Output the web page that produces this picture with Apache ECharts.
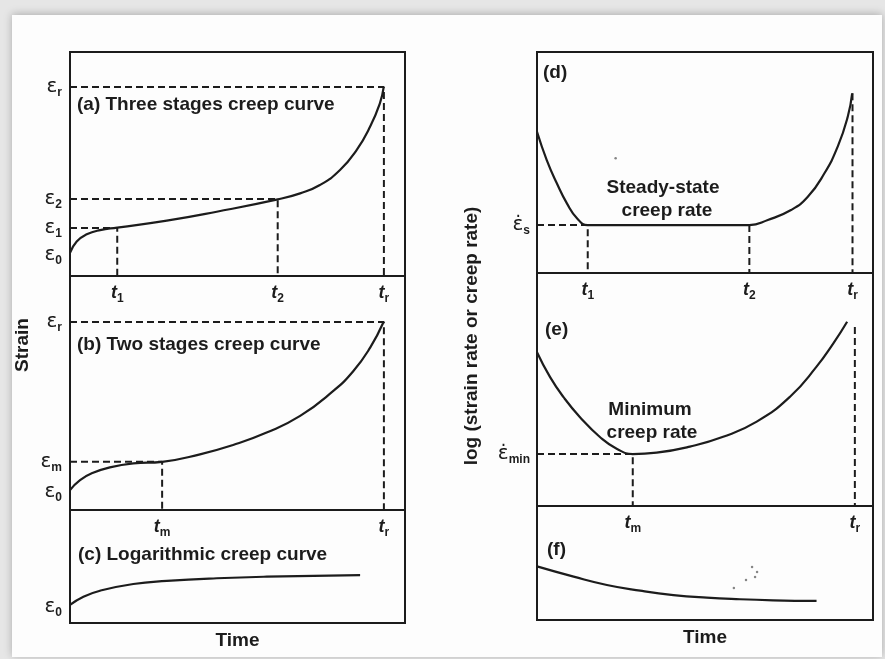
<!DOCTYPE html>
<html>
<head>
<meta charset="utf-8">
<script src="https://cdn.jsdelivr.net/npm/echarts@6/dist/echarts.min.js"></script>
<style>
html,body{margin:0;padding:0;background:#e6e6e6;}
#c{width:885px;height:659px;}
</style>
</head>
<body>
<div id="c"></div>
<script>
// ---------- data (normalised time 0..100, normalised strain / log rate 0..100) ----------
// (a) three-stage creep curve
const curveA = [[0,10.3],[2.0,15.4],[5.0,18.6],[9.0,20.5],[14.1,21.6],[28.9,24.7],[43.8,28.7],[62.0,34.2],[68.7,36.9],[74.6,40.6],[80.6,47.3],[85.6,56.3],[89.6,66.7],[92.5,77.1],[93.6,84.0]];
const tA = [14.1, 62.0, 93.7];
const tAsub = ['1', '2', 'r'];
const eA = [9.5, 21.4, 34.4, 84.4];
const eAsub = ['0', '1', '2', 'r'];
// (b) two-stage creep curve
const curveB = [[0,8.5],[3.0,12.8],[6.9,15.9],[11.9,18.2],[18.9,19.9],[27.5,20.6],[38.8,23.8],[48.7,27.8],[58.7,33.1],[68.7,40.2],[78.6,50.9],[84.6,59.4],[89.6,69.4],[93.5,80.0]];
const tB = [27.5, 93.7];
const tBsub = ['m', 'r'];
const eB = [7.7, 20.6, 80.3];
const eBsub = ['0', 'm', 'r'];
// (c) logarithmic creep curve
const curveC = [[0,16.0],[4.0,23.3],[9.0,28.6],[18.9,34.5],[28.9,37.2],[43.8,39.6],[58.7,41.0],[86.6,42.3]];
const eC = [14.2];
const eCsub = ['0'];
// (d) strain rate, three stages
const curveD = [[0,63.9],[2.9,51.1],[5.9,40.6],[8.9,31.5],[11.9,24.8],[15.1,21.7],[30,21.7],[48,21.7],[63.2,21.7],[68.7,24.0],[75.6,28.5],[80.6,34.5],[85.5,45.0],[89.5,57.2],[92.5,70.8],[93.8,81.3]];
const tD = [15.1, 63.2, 93.9];
const tDsub = ['1', '2', 'r'];
const rD = [21.7];
const rDsub = ['s'];
// (e) strain rate, two stages
const curveE = [[0,66.0],[3.9,55.3],[7.9,46.7],[12.8,38.1],[18.8,29.5],[23.7,24.6],[28.5,22.3],[35.6,22.9],[45.5,25.5],[55.4,29.7],[65.4,36.2],[75.3,46.9],[83.2,59.8],[88.2,69.8],[92.3,79.1]];
const tE = [28.5, 94.6];
const tEsub = ['m', 'r'];
const rE = [22.3];
const rEsub = ['min'];
const trTopE = 76.8;
// (f) logarithmic creep rate
const curveF = [[0,47.0],[10.9,38.0],[20.8,30.7],[30.7,25.7],[40.6,21.9],[50.5,19.6],[60.4,18.2],[70.3,17.3],[83.2,16.7]];
// scan specks
const specksF = [[58.6,28.1],[62.2,35.1],[64.0,46.5],[64.9,37.7],[65.5,42.1]];
const specksD = [[23.4,51.9]];

// ---------- layout ----------
const INK = '#1c1c1c';
const FONT = 'Liberation Sans, Arial, Helvetica, sans-serif';
const grids = [
  {left:70, top:52, width:335, height:224},
  {left:70, top:276, width:335, height:234},
  {left:70, top:510, width:335, height:113},
  {left:537, top:52, width:336, height:221},
  {left:537, top:273, width:336, height:233},
  {left:537, top:506, width:336, height:114}
].map(g => Object.assign(g, {show:true, borderColor:INK, borderWidth:2, backgroundColor:'transparent'}));

const richStyles = {
  e: {fontSize:20, fontFamily:'DejaVu Sans', color:INK, lineHeight:24, verticalAlign:'middle'},
  t: {fontSize:18, fontFamily:FONT, fontStyle:'italic', fontWeight:'bold', color:INK, lineHeight:24, verticalAlign:'middle'},
  s: {fontSize:12, fontFamily:FONT, fontWeight:'bold', color:INK, lineHeight:13, verticalAlign:'bottom'}
};

function lookup(vals, subs, v){
  const i = vals.findIndex(x => Math.abs(x - v) < 1e-6);
  return i < 0 ? '' : subs[i];
}
function xAx(gi, vals, subs, name){
  const ax = {
    gridIndex:gi, type:'value', min:0, max:100,
    axisLine:{show:false}, axisTick:{show:false}, splitLine:{show:false},
    axisLabel:{show: !!vals, margin:5, rich:richStyles,
      customValues: vals || [],
      formatter: v => '{t|t}{s|' + lookup(vals||[], subs||[], v) + '}'}
  };
  if (name){
    Object.assign(ax, {name:name, nameLocation:'middle', nameGap:8,
      nameTextStyle:{fontSize:19, fontWeight:'bold', color:INK, fontFamily:FONT}});
  }
  return ax;
}
function yAx(gi, vals, subs, dotted){
  return {
    gridIndex:gi, type:'value', min:0, max:100,
    axisLine:{show:false}, axisTick:{show:false}, splitLine:{show:false},
    axisLabel:{show:true, margin:dotted ? 7 : 8, rich:richStyles,
      customValues: vals,
      formatter: v => '{e|' + (dotted ? 'ε\u0307' : 'ε') + '}{s|' + lookup(vals, subs, v) + '}'}
  };
}

function curve(gi, data){
  return {type:'line', xAxisIndex:gi, yAxisIndex:gi, data:data, smooth:0.5,
    symbol:'none', silent:true, lineStyle:{color:INK, width:2.2}, z:3};
}
function guide(gi, data){
  return {type:'line', xAxisIndex:gi, yAxisIndex:gi, data:data, smooth:false,
    symbol:'none', silent:true, lineStyle:{color:INK, width:2, type:[7,4]}, z:2};
}
function specks(gi, data){
  return {type:'scatter', xAxisIndex:gi, yAxisIndex:gi, data:data, symbolSize:2.5, silent:true,
    itemStyle:{color:'#666'}};
}

const series = [
  curve(0, curveA),
  guide(0, [[0,eA[1]],[tA[0],eA[1]],[tA[0],0]]),
  guide(0, [[0,eA[2]],[tA[1],eA[2]],[tA[1],0]]),
  guide(0, [[0,eA[3]],[tA[2],eA[3]],[tA[2],0]]),
  curve(1, curveB),
  guide(1, [[0,eB[1]],[tB[0],eB[1]],[tB[0],0]]),
  guide(1, [[0,eB[2]],[tB[1],eB[2]],[tB[1],0]]),
  curve(2, curveC),
  curve(3, curveD),
  guide(3, [[0,rD[0]],[tD[0],rD[0]],[tD[0],0]]),
  guide(3, [[tD[1],rD[0]],[tD[1],0]]),
  guide(3, [[tD[2],curveD[curveD.length-1][1]],[tD[2],0]]),
  specks(3, specksD),
  curve(4, curveE),
  guide(4, [[0,rE[0]],[tE[0],rE[0]],[tE[0],0]]),
  guide(4, [[tE[1],trTopE],[tE[1],0]]),
  curve(5, curveF),
  specks(5, specksF)
];

function txt(x, y, s, align, extra){
  return {type:'text', x:x, y:y, silent:true, z:10,
    style:Object.assign({text:s, fill:INK, font:'bold 19px ' + FONT, textAlign:align || 'left', textVerticalAlign:'middle'}, extra || {})};
}

const graphic = [
  {type:'rect', shape:{x:12, y:15, width:870, height:642}, style:{fill:'#fdfdfd', shadowBlur:8, shadowColor:'rgba(0,0,0,0.25)', shadowOffsetY:-1}, z:-10, silent:true},
  txt(77, 105, '(a) Three stages creep curve'),
  txt(77, 345, '(b) Two stages creep curve'),
  txt(78, 555, '(c) Logarithmic creep curve'),
  txt(543, 73, '(d)'),
  txt(545, 330, '(e)'),
  txt(547, 550, '(f)'),
  txt(663, 188, 'Steady-state', 'center'),
  txt(667, 211, 'creep rate', 'center'),
  txt(650, 410, 'Minimum', 'center'),
  txt(652, 433, 'creep rate', 'center'),
  Object.assign(txt(23, 345, 'Strain', 'center'), {rotation:Math.PI/2}),
  Object.assign(txt(472, 336, 'log (strain rate or creep rate)', 'center'), {rotation:Math.PI/2})
];

const chart = echarts.init(document.getElementById('c'), null, {renderer:'canvas'});
chart.setOption({
  backgroundColor:'#e6e6e6',
  animation:false,
  textStyle:{fontFamily:FONT},
  grid:grids,
  xAxis:[
    xAx(0, tA, tAsub),
    xAx(1, tB, tBsub),
    xAx(2, null, null, 'Time'),
    xAx(3, tD, tDsub),
    xAx(4, tE, tEsub),
    xAx(5, null, null, 'Time')
  ],
  yAxis:[
    yAx(0, eA, eAsub, false),
    yAx(1, eB, eBsub, false),
    yAx(2, eC, eCsub, false),
    yAx(3, rD, rDsub, true),
    yAx(4, rE, rEsub, true),
    {gridIndex:5, type:'value', min:0, max:100, axisLine:{show:false}, axisTick:{show:false}, splitLine:{show:false}, axisLabel:{show:false}}
  ],
  series:series,
  graphic:graphic
});
</script>
</body>
</html>
